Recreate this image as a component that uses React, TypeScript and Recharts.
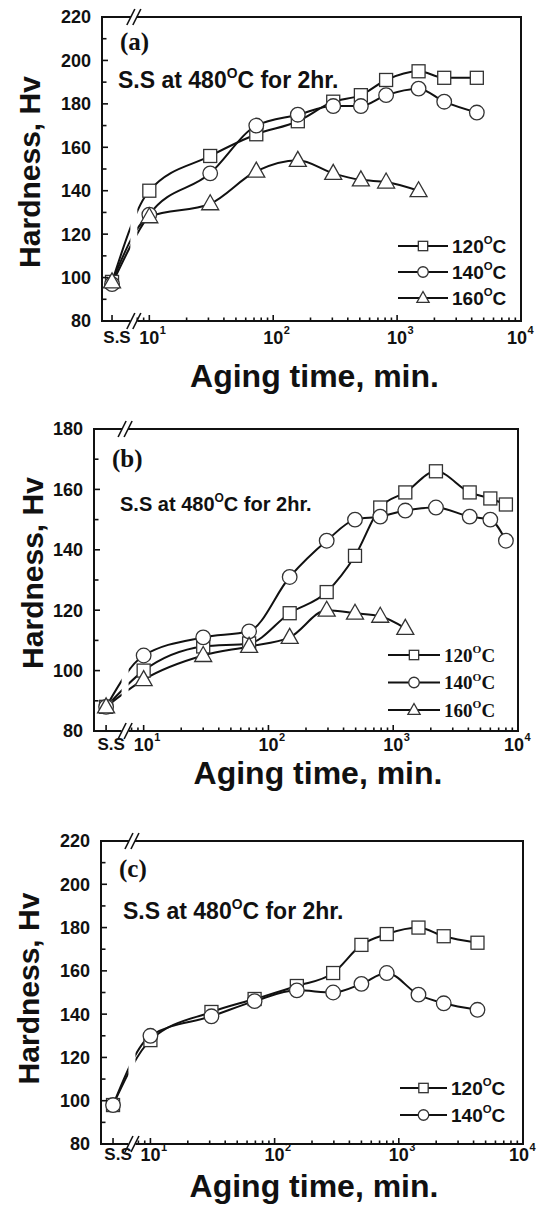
import React from "react";
import { LineChart, Line, XAxis, YAxis, ReferenceLine, ReferenceArea } from "recharts";

const SANS = "'Liberation Sans', Arial, Helvetica, sans-serif";
const SERIF = "'Liberation Serif', 'Times New Roman', serif";
const INK = "#111";

// S.S (solution treated) sits left of the axis break on the log axis
const SS_T = 5;

// log-axis ticks: labelled decades plus the minor ones
const xTicks = [
  SS_T, 8, 9, 10, 20, 30, 40, 50, 60, 70, 80, 90, 100, 200, 300, 400, 500, 600, 700, 800, 900,
  1000, 2000, 3000, 4000, 5000, 6000, 7000, 8000, 9000, 10000,
];
const yTicksA = [80, 90, 100, 110, 120, 130, 140, 150, 160, 170, 180, 190, 200, 210, 220];
const yTicksB = [80, 90, 100, 110, 120, 130, 140, 150, 160, 170, 180];

// panel (a)
const timesA = [SS_T, 10, 31, 73, 158, 305, 510, 815, 1490, 2400, 4400];
const hardA120 = [98, 140, 156, 166, 172, 181, 184, 191, 195, 192, 192];
const hardA140 = [97, 129, 148, 170, 175, 179, 179, 184, 187, 181, 176];
const hardA160 = [98, 128, 134, 149, 154, 148, 145, 144, 140];

// panel (b)
const timesB = [SS_T, 10, 30, 70, 148, 293, 494, 787, 1250, 2200, 4100, 6000, 8000];
const hardB120 = [88, 100, 108, 109, 119, 126, 138, 154, 159, 166, 159, 157, 155];
const hardB140 = [88, 105, 111, 113, 131, 143, 150, 151, 153, 154, 151, 150, 143];
const hardB160 = [88, 97, 105, 108, 111, 120, 119, 118, 114];

// panel (c)
const timesC = [SS_T, 10, 31, 69, 151, 296, 500, 800, 1440, 2300, 4300];
const hardC120 = [98, 128, 141, 147, 153, 159, 172, 177, 180, 176, 173];
const hardC140 = [98, 130, 139, 146, 151, 150, 154, 159, 149, 145, 142];

const Y_MARGIN = 11;

const toRows = (times: number[], values: number[]) =>
  values.map((v, i) => ({ t: times[i], v }));

function Marker({ kind, cx, cy, k = 1 }: { kind: string; cx: number; cy: number; k?: number }) {
  const st = { fill: "#fff", stroke: "#333", strokeWidth: 1.3 };
  if (kind === "square") {
    const h = 6.5 * k;
    return <rect x={cx - h} y={cy - h} width={2 * h} height={2 * h} {...st} />;
  }
  if (kind === "circle") return <circle cx={cx} cy={cy} r={7.3 * k} {...st} />;
  const w = 8.5 * k;
  return (
    <polygon
      points={`${cx},${cy - 9 * k} ${cx - w},${cy + 6 * k} ${cx + w},${cy + 6 * k}`}
      {...st}
    />
  );
}

const makeDot = (kind: string) => (p: any) =>
  <Marker key={`${kind}-${p.index}`} kind={kind} cx={p.cx} cy={p.cy} />;

function DegText({ x, y, size, font, before, after = "" }: any) {
  const rise = size * 0.45;
  return (
    <text x={x} y={y} fontFamily={font} fontSize={size} fontWeight="bold" fill={INK}>
      {before}
      <tspan dy={-rise} fontSize={size * 0.6}>O</tspan>
      <tspan dy={rise}>{"C" + after}</tspan>
    </text>
  );
}

const isDecade = (v: number) => [10, 100, 1000, 10000].includes(v);

const XTick = (props: any) => {
  const m = props.m ?? 10;
  const x = Number(props.x);
  const y = Number(props.y);
  const v = props.payload.value;
  const axisY = y - m;
  const major = v === SS_T || isDecade(v);
  // the last label is nudged in so it stays on the page
  const lx = v === 10000 ? x - 4 : x;
  return (
    <g>
      <path d={`M${x},${axisY}V${axisY - (major ? 6 : 3.5)}`} stroke={INK} strokeWidth={1.6} fill="none" />
      {v === SS_T && (
        <text x={x + 5} y={y} dy="0.71em" textAnchor="middle" fontFamily={SANS} fontSize={17} fontWeight="bold" fill={INK}>
          S.S
        </text>
      )}
      {isDecade(v) && (
        <g fontFamily={SANS} fontWeight="bold" fill={INK}>
          <text x={lx} y={y} dy="0.71em" textAnchor="middle" fontSize={18}>10</text>
          <text x={lx + 10.5} y={y} dy="0.3em" fontSize={11}>{Math.round(Math.log10(v))}</text>
        </g>
      )}
    </g>
  );
};

const YTick = (props: any) => {
  const x = Number(props.x);
  const y = Number(props.y);
  const v = props.payload.value;
  const axisX = x + Y_MARGIN;
  const major = v % 20 === 0;
  return (
    <g>
      <path d={`M${axisX},${y}H${axisX + (major ? 6 : 4.5)}`} stroke={INK} strokeWidth={1.6} fill="none" />
      {major && (
        <text x={x} y={y} dy="0.355em" textAnchor="end" fontFamily={SANS} fontSize={18} fontWeight="bold" fill={INK}>
          {v}
        </text>
      )}
    </g>
  );
};

// gap through the frame and curves plus "//" marks on the frame
const BreakMark = (props: any) => {
  const x1 = Number(props.x1);
  const top = Math.min(Number(props.y1), Number(props.y2));
  const bot = Math.max(Number(props.y1), Number(props.y2));
  const slash = (cy: number) =>
    [-3, 3].map((d) => (
      <line key={`${cy}-${d}`} x1={x1 + d - 4} y1={cy + 8} x2={x1 + d + 4} y2={cy - 8} stroke={INK} strokeWidth={1.6} />
    ));
  return (
    <g>
      <rect x={x1 - 3} y={top - 3} width={6} height={6} fill="#fff" />
      <rect x={x1 - 3.5} y={top + 100} width={7} height={bot - top - 97} fill="#fff" />
      {slash(top)}
      {slash(bot)}
    </g>
  );
};

const panels = [
  {
    id: "a", top: 0, height: 400, mTop: 17, mRight: 17, yw: 102, xh: 79, xm: 10,
    lo: 4.15, brk: 7.5, yDom: [80, 220], yTicks: yTicksA,
    xTitleOff: 13, xTitleDx: 3, yTitleX: 29, yTitleDy: 3,
    tag: { x: 120, y: 50 }, note: { x: 118, y: 88, size: 23 },
    legend: { x: 398, y: 246, gap: 26, font: SANS, size: 19, w: 50 },
    series: [
      { name: "120", marker: "square", data: toRows(timesA, hardA120) },
      { name: "140", marker: "circle", data: toRows(timesA, hardA140) },
      { name: "160", marker: "triangle", data: toRows(timesA, hardA160) },
    ],
  },
  {
    id: "b", top: 400, height: 410, mTop: 29, mRight: 20, yw: 94, xh: 79, xm: 7,
    lo: 4.0, brk: 7.1, yDom: [80, 180], yTicks: yTicksB,
    xTitleOff: 26, xTitleDx: 12, yTitleX: 32, yTitleDy: -7,
    tag: { x: 112, y: 67 }, note: { x: 120, y: 111, size: 20 },
    legend: { x: 388, y: 255, gap: 27.5, font: SERIF, size: 19, w: 52 },
    series: [
      { name: "120", marker: "square", data: toRows(timesB, hardB120) },
      { name: "140", marker: "circle", data: toRows(timesB, hardB140) },
      { name: "160", marker: "triangle", data: toRows(timesB, hardB160) },
    ],
  },
  {
    id: "c", top: 810, height: 400, mTop: 31, mRight: 15, yw: 101, xh: 66, xm: 4,
    lo: 4.0, brk: 7.1, yDom: [80, 220], yTicks: yTicksA,
    xTitleOff: 13, xTitleDx: 2, yTitleX: 28.5, yTitleDy: -4,
    tag: { x: 119, y: 67 }, note: { x: 123, y: 109, size: 23 },
    legend: { x: 400, y: 278, gap: 27, font: SANS, size: 19, w: 47 },
    series: [
      { name: "120", marker: "square", data: toRows(timesC, hardC120) },
      { name: "140", marker: "circle", data: toRows(timesC, hardC140) },
    ],
  },
];

function Panel({ cfg }: { cfg: any }) {
  const dom = [cfg.lo, 10000];
  const lg = cfg.legend;
  return (
    <div style={{ position: "absolute", left: 0, top: cfg.top }}>
      <LineChart width={538} height={cfg.height} margin={{ top: cfg.mTop, right: cfg.mRight, left: 0, bottom: 0 }}>
        <XAxis
          dataKey="t"
          type="number"
          scale="log"
          domain={dom}
          allowDataOverflow
          ticks={xTicks}
          interval={0}
          height={cfg.xh}
          tickSize={0}
          tickMargin={cfg.xm}
          tickLine={false}
          axisLine={false}
          tick={<XTick m={cfg.xm} />}
          label={{
            value: "Aging time, min.",
            position: "insideBottom",
            offset: cfg.xTitleOff,
            dx: cfg.xTitleDx,
            style: { fontFamily: SANS, fontSize: 32, fontWeight: "bold", fill: INK },
          }}
        />
        <YAxis
          type="number"
          domain={cfg.yDom}
          allowDataOverflow
          ticks={cfg.yTicks}
          interval={0}
          width={cfg.yw}
          tickSize={0}
          tickMargin={Y_MARGIN}
          tickLine={false}
          axisLine={false}
          tick={<YTick />}
          label={{
            value: "Hardness, Hv",
            angle: -90,
            position: "insideLeft",
            offset: cfg.yTitleX,
            dy: cfg.yTitleDy,
            style: { textAnchor: "middle", fontFamily: SANS, fontSize: 30, fontWeight: "bold", fill: INK },
          }}
        />

        {/* plot frame */}
        <ReferenceArea
          x1={cfg.lo}
          x2={10000}
          y1={cfg.yDom[0]}
          y2={cfg.yDom[1]}
          fill="none"
          fillOpacity={0}
          stroke={INK}
          strokeWidth={2}
          strokeOpacity={1}
          ifOverflow="visible"
        />

        {cfg.series.map((s: any) => (
          <Line
            key={s.name}
            data={s.data}
            dataKey="v"
            name={`${s.name}°C`}
            type="monotone"
            stroke={INK}
            strokeWidth={2}
            dot={makeDot(s.marker)}
            activeDot={false}
            isAnimationActive={false}
          />
        ))}

        <ReferenceLine x={cfg.brk} shape={BreakMark} zIndex={1000} ifOverflow="visible" />

        <text x={cfg.tag.x} y={cfg.tag.y} fontFamily={SERIF} fontSize={25} fontWeight="bold" fill={INK}>
          ({cfg.id})
        </text>
        <DegText x={cfg.note.x} y={cfg.note.y} size={cfg.note.size} font={SANS} before="S.S at 480" after=" for 2hr." />

        {cfg.series.map((s: any, i: number) => {
          const cy = lg.y + i * lg.gap;
          return (
            <g key={`lg-${s.name}`}>
              <line x1={lg.x} x2={lg.x + lg.w} y1={cy} y2={cy} stroke={INK} strokeWidth={2} />
              <Marker kind={s.marker} cx={lg.x + lg.w / 2} cy={cy} k={0.72} />
              <DegText x={lg.x + lg.w + 4} y={cy + lg.size * 0.36} size={lg.size} font={lg.font} before={s.name} />
            </g>
          );
        })}
      </LineChart>
    </div>
  );
}

export default function App() {
  return (
    <div style={{ position: "absolute", left: 0, top: 0, width: 538, height: 1210, background: "#fff" }}>
      {panels.map((p) => (
        <Panel key={p.id} cfg={p} />
      ))}
    </div>
  );
}
